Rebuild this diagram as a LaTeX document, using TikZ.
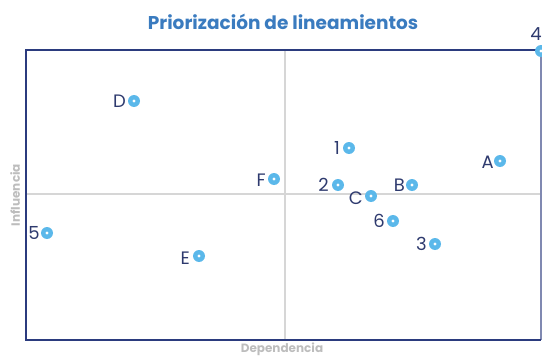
\documentclass[tikz,border=0pt]{standalone}
\usepackage{fontspec}
\setmainfont{Poppins}
\definecolor{navy}{HTML}{2B3B7E}
\definecolor{lbl}{HTML}{2E3A6E}
\definecolor{ptblue}{HTML}{5BB8EA}
\definecolor{titleblue}{HTML}{3A7BBF}
\definecolor{axgray}{HTML}{D6D6D6}
\definecolor{txgray}{HTML}{BDBDBD}
\begin{document}
\begin{tikzpicture}[x=1pt,y=-1pt,
  pt/.style={circle,fill=ptblue,minimum size=12pt,inner sep=0pt,
    path picture={\fill[white] (path picture bounding box.center) circle (1.6pt);}},
  lab/.style={text=lbl,font=\fontsize{18}{18}\selectfont,inner sep=0pt,anchor=east}]
\useasboundingbox (0,0) rectangle (542,356);
\begin{scope}
\clip (0,0) rectangle (542,356);
\draw[axgray,line width=2pt] (285,50) -- (285,340);
\draw[axgray,line width=2pt] (26,194) -- (541,194);
\draw[navy!60,line width=1.2pt] (541,50) -- (541,340);
\draw[navy,line width=2.6pt] (541,50) -- (26,50) -- (26,340) -- (541,340);
\node[pt] (p4) at (541,51) {};
\end{scope}
\node[font=\fontsize{18.5}{18.5}\selectfont\bfseries,text=titleblue] (title) at (283,22) {Priorización de lineamientos};
\node[font=\fontsize{12}{12}\selectfont\bfseries,text=txgray] (xl) at (282,349) {Dependencia};
\node[font=\fontsize{12}{12}\selectfont\bfseries,text=txgray,rotate=90] (yl) at (15,195) {Influencia};
\node[pt] (pD) at (134,101) {};
\node[lab] at (126,101) {D};
\node[pt] (p1) at (349,148) {};
\node[lab] at (340,148) {1};
\node[pt] (pF) at (274,179) {};
\node[lab] at (266,180) {F};
\node[pt] (p2) at (338,185) {};
\node[lab] at (329,185) {2};
\node[pt] (pC) at (371,196) {};
\node[lab] at (363,198) {C};
\node[pt] (pB) at (412,185) {};
\node[lab] at (405,185) {B};
\node[pt] (pA) at (500,161) {};
\node[lab] at (494,162) {A};
\node[pt] (p6) at (393,221) {};
\node[lab] at (385,221) {6};
\node[pt] (p3) at (435,244) {};
\node[lab] at (427,244) {3};
\node[pt] (p5) at (47,233) {};
\node[lab] at (40,233) {5};
\node[pt] (pE) at (199,256) {};
\node[lab] at (190,258) {E};
\node[lab] at (542,34) {4};
\end{tikzpicture}
\end{document}
